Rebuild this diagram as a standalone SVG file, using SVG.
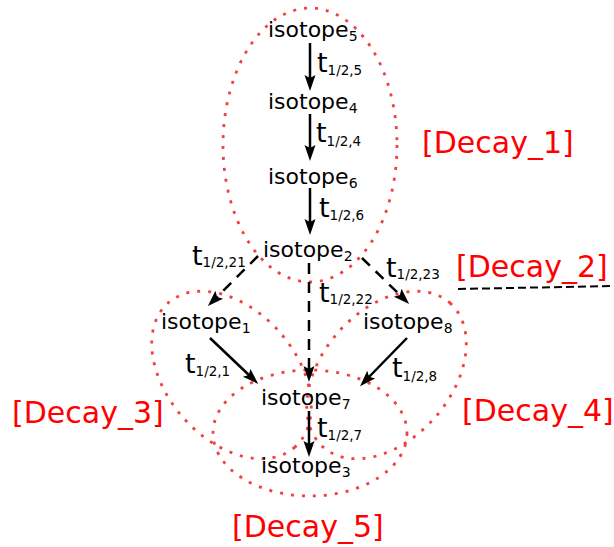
<svg xmlns="http://www.w3.org/2000/svg" width="614" height="547" viewBox="0 0 614 547">
<style>
.iso{font-family:"DejaVu Sans",sans-serif;font-size:22px;fill:#000}
.sub{font-size:14px}
.tl{font-family:"DejaVu Sans",sans-serif;font-size:27px;fill:#000}
.tsub{font-size:13.5px}
.lbl{font-family:"DejaVu Sans",sans-serif;font-size:30px;fill:#ff0000}
.ring{fill:none;stroke:#f04040;stroke-width:2.8;stroke-dasharray:3 8}
.arr{fill:none;stroke:#000;stroke-width:2.5;marker-end:url(#ah)}
.dash{stroke-dasharray:11 8}
</style>
<defs>
<marker id="ah" markerUnits="userSpaceOnUse" markerWidth="30" markerHeight="20" viewBox="-10 -10 30 20" refX="0" refY="0" orient="auto" overflow="visible">
<path d="M10,0 L-6,-5.5 L-3,0 L-6,5.5 Z" fill="#000" stroke="none"/>
</marker>
</defs>
<g id="groups">
<ellipse id="decay1-ring" class="ring" cx="310" cy="145" rx="87" ry="137"/>
<ellipse id="decay3-ring" class="ring" cx="0" cy="0" rx="96" ry="64.5" transform="translate(231.5 375) rotate(48.7)"/>
<ellipse id="decay4-ring" class="ring" cx="0" cy="0" rx="96" ry="64.5" transform="translate(386.5 375) rotate(-48.7)"/>
<ellipse id="decay5-ring" class="ring" cx="310" cy="433" rx="97" ry="63"/>
</g>
<g id="connectors">
<line class="arr" x1="310" y1="43" x2="310" y2="81"/>
<line class="arr" x1="310" y1="114" x2="310" y2="151"/>
<line class="arr" x1="310" y1="188" x2="310" y2="225"/>
<line class="arr dash" x1="258" y1="256" x2="215" y2="299"/>
<line class="arr dash" x1="362" y1="258" x2="402" y2="297"/>
<line class="arr dash" x1="309" y1="263" x2="309" y2="372"/>
<line class="arr" x1="210" y1="338" x2="251" y2="377"/>
<line class="arr" x1="407" y1="338" x2="367" y2="379"/>
<line class="arr" x1="309" y1="411" x2="309" y2="447"/>
<line id="decay2-line" x1="458" y1="289" x2="614" y2="286" stroke="#000" stroke-width="2" stroke-dasharray="8 4"/>
</g>
<g id="edge-labels">
<text class="tl" x="317" y="72">t<tspan class="tsub" dy="3">1/2,5</tspan></text>
<text class="tl" x="316" y="142">t<tspan class="tsub" dy="4">1/2,4</tspan></text>
<text class="tl" x="319" y="217">t<tspan class="tsub" dy="3">1/2,6</tspan></text>
<text class="tl" x="192" y="265">t<tspan class="tsub" dy="2">1/2,21</tspan></text>
<text class="tl" x="386" y="277">t<tspan class="tsub" dy="2">1/2,23</tspan></text>
<text class="tl" x="319" y="302">t<tspan class="tsub" dy="2">1/2,22</tspan></text>
<text class="tl" x="185" y="373">t<tspan class="tsub" dy="3">1/2,1</tspan></text>
<text class="tl" x="392" y="377">t<tspan class="tsub" dy="4">1/2,8</tspan></text>
<text class="tl" x="317" y="437">t<tspan class="tsub" dy="3">1/2,7</tspan></text>
</g>
<g id="iso5"><text class="iso" x="268" y="37">isotope<tspan class="sub" dy="4">5</tspan></text></g>
<g id="iso4"><text class="iso" x="268" y="109">isotope<tspan class="sub" dy="4">4</tspan></text></g>
<g id="iso6"><text class="iso" x="268" y="184">isotope<tspan class="sub" dy="4">6</tspan></text></g>
<g id="iso2"><text class="iso" x="263" y="257">isotope<tspan class="sub" dy="4">2</tspan></text></g>
<g id="iso1"><text class="iso" x="161" y="329">isotope<tspan class="sub" dy="4">1</tspan></text></g>
<g id="iso8"><text class="iso" x="363" y="329">isotope<tspan class="sub" dy="4">8</tspan></text></g>
<g id="iso7"><text class="iso" x="261" y="405">isotope<tspan class="sub" dy="4">7</tspan></text></g>
<g id="iso3"><text class="iso" x="261" y="473">isotope<tspan class="sub" dy="4">3</tspan></text></g>
<g id="labels">
<text class="lbl" x="422" y="153">[Decay_1]</text>
<text class="lbl" x="456" y="277">[Decay_2]</text>
<text class="lbl" x="12" y="423">[Decay_3]</text>
<text class="lbl" x="462" y="421">[Decay_4]</text>
<text class="lbl" x="232" y="537">[Decay_5]</text>
</g>
</svg>
